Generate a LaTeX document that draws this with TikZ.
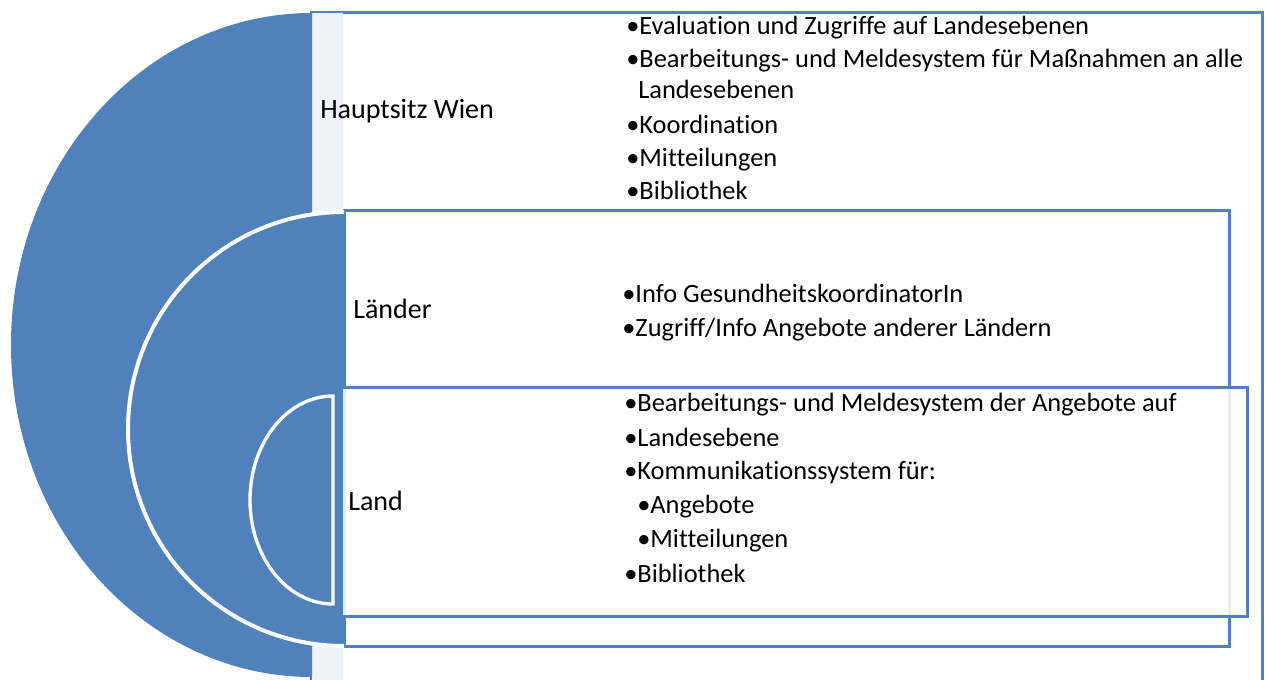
\documentclass[tikz,border=0pt]{standalone}
\usepackage{fontspec}
\setmainfont{Carlito}[Ligatures={NoCommon}]
\definecolor{ofblue}{HTML}{4F81BD}
\definecolor{lightstrip}{HTML}{EEF3FA}
\begin{document}
\begin{tikzpicture}[x=0.75pt,y=-0.75pt,
  frame/.style={draw=ofblue,line width=2.25pt},
  lbl/.style={inner sep=0pt,anchor=base west,font=\fontsize{21}{25}\selectfont},
  item/.style={inner sep=0pt,anchor=base west,font=\fontsize{19.8}{24}\selectfont}]
\useasboundingbox (0,0) rectangle (1266,679);
\clip (0,0) rectangle (1266,679);
\fill[white] (0,0) rectangle (1266,679);
% outer frame (Hauptsitz)
\draw[frame,fill=white] (311,12) rectangle (1262,720);
\fill[lightstrip] (312.2,13.2) rectangle (343,719);
\begin{scope}
  \clip (0,0) rectangle (312,720);
  \fill[ofblue] (312,345) ellipse[x radius=301,y radius=332];
\end{scope}
% middle frame (Laender)
\draw[frame,fill=white] (344,210) rectangle (1229,646);
\begin{scope}
  \clip (0,0) rectangle (344,720);
  \filldraw[fill=ofblue,draw=white,line width=3pt] (344,429) ellipse[x radius=216,y radius=217];
\end{scope}
% inner frame (Land)
\fill[white,opacity=0.85] (341,387) rectangle (1247,616);
\draw[frame] (341,387) rectangle (1247,616);
\filldraw[fill=ofblue,draw=white,line width=2.5pt] (333,396) arc[start angle=-90,end angle=-270,x radius=83,y radius=104] -- cycle;
% texts
\node[lbl] (hw) at (320,118) {Hauptsitz Wien};
\node[item] (h1) at (626,34) {•Evaluation und Zugriffe auf Landesebenen};
\node[item] (h2) at (626,67) {•Bearbeitungs- und Meldesystem für Maßnahmen an alle};
\node[item] (h3) at (638,98) {Landesebenen};
\node[item] (h4) at (626,133) {•Koordination};
\node[item] (h5) at (626,166) {•Mitteilungen};
\node[item] (h6) at (626,199) {•Bibliothek};
\node[lbl] (lr) at (353,318) {Länder};
\node[item] (l1) at (622,302) {•Info GesundheitskoordinatorIn};
\node[item] (l2) at (622,336) {•Zugriff/Info Angebote anderer Ländern};
\node[lbl] (ld) at (348,510) {Land};
\node[item] (d1) at (624,411) {•Bearbeitungs- und Meldesystem der Angebote auf};
\node[item] (d2) at (624,446) {•Landesebene};
\node[item] (d3) at (624,479) {•Kommunikationssystem für:};
\node[item] (d4) at (637,513) {•Angebote};
\node[item] (d5) at (637,547) {•Mitteilungen};
\node[item] (d6) at (624,582) {•Bibliothek};
\end{tikzpicture}
\end{document}
